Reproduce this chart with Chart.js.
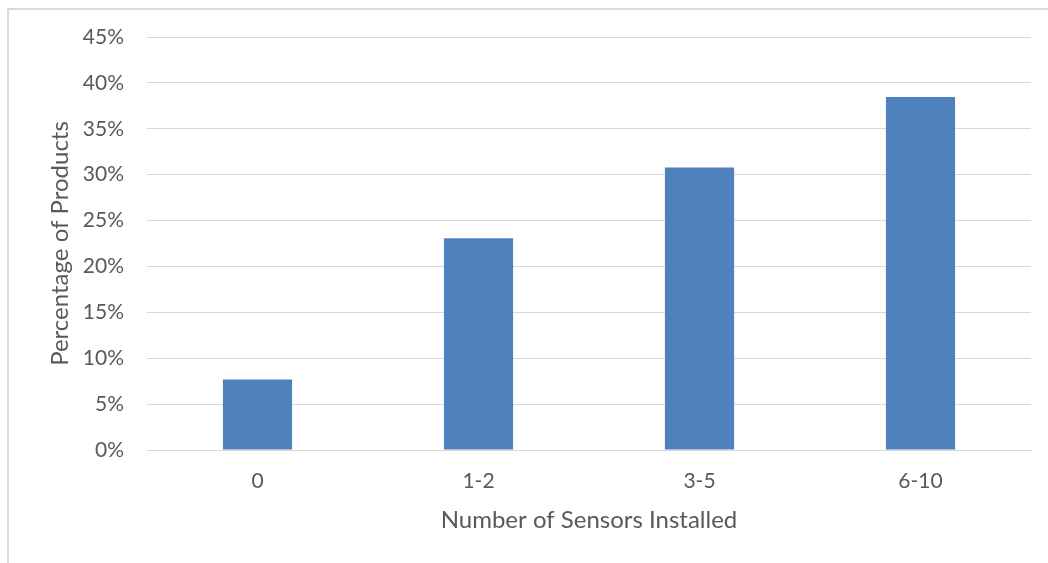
<!DOCTYPE html>
<html>
<head>
<meta charset="utf-8">
<script src="https://cdn.jsdelivr.net/npm/chart.js@4/dist/chart.umd.min.js"></script>
<style>
  html, body { margin: 0; padding: 0; background: #fff; }
  #wrap { position: relative; width: 1048px; height: 563px; overflow: hidden; }
  #frame {
    position: absolute; left: 7px; top: 8px; width: 1100px; height: 600px;
    border-left: 2px solid #d9d9d9; border-top: 2px solid #d9d9d9;
  }
  #chart { position: absolute; left: 0; top: 0; }
</style>
</head>
<body>
<div id="wrap">
  <div id="frame"></div>
  <canvas id="chart" width="1048" height="563"></canvas>
</div>
<script>
// sensor count buckets and share of products in each
const categories = ['0', '1-2', '3-5', '6-10'];
const shares = [7.69, 23.08, 30.77, 38.46];
const yMax = 45;
const yStep = 5;

const ctx = document.getElementById('chart').getContext('2d');
const font = 'Lato, "Open Sans", sans-serif';

new Chart(ctx, {
    type: 'bar',
    data: {
        labels: categories,
        datasets: [{
            label: 'Percentage of Products',
            data: shares,
            backgroundColor: '#4f81bd',
            borderWidth: 0,
            barPercentage: 0.313,
            categoryPercentage: 1
        }]
    },
    options: {
        responsive: false,
        animation: false,
        layout: { padding: { left: 0, right: 17, top: 37, bottom: 0 } },
        plugins: {
            legend: { display: false },
            tooltip: { enabled: false }
        },
        scales: {
            x: {
                grid: { display: false, drawTicks: false },
                border: { display: true, color: '#d9d9d9', width: 1 },
                ticks: { color: '#595959', font: { size: 21, family: font }, padding: 19 },
                title: {
                    display: true,
                    text: 'Number of Sensors Installed',
                    color: '#595959',
                    font: { size: 24, family: font },
                    padding: { top: 0, bottom: 28 }
                },
                afterFit: s => { s.height = 113; }
            },
            y: {
                min: 0,
                max: yMax,
                grid: { color: '#d9d9d9', lineWidth: 1, drawTicks: false },
                border: { display: false },
                ticks: {
                    stepSize: yStep,
                    color: '#595959',
                    font: { size: 21, family: font },
                    padding: 23,
                    callback: v => v + '%'
                },
                title: {
                    display: true,
                    text: 'Percentage of Products',
                    color: '#595959',
                    font: { size: 24, family: font },
                    padding: { top: 46, bottom: 0 }
                },
                afterFit: s => { s.width = 147; }
            }
        }
    }
});
</script>
</body>
</html>
